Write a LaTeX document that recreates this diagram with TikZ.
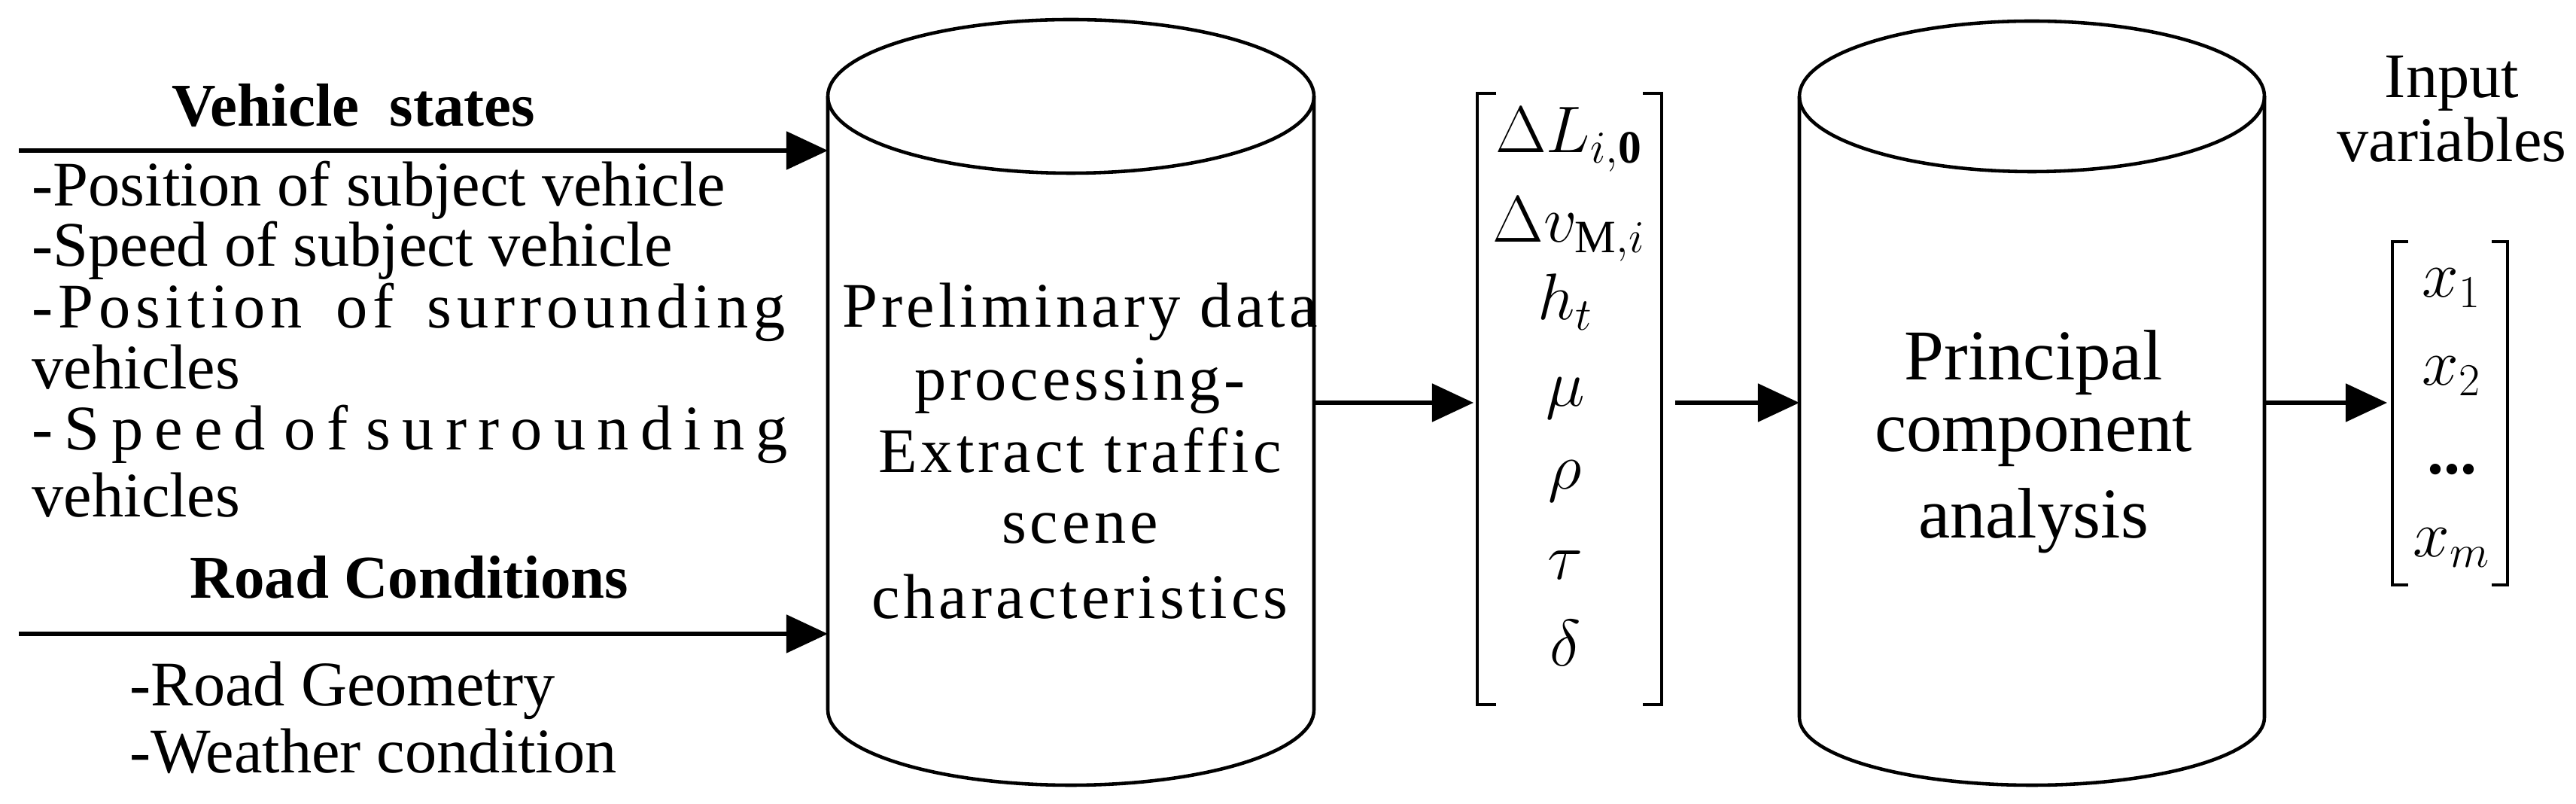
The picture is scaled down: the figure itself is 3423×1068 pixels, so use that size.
\documentclass[tikz,border=0pt]{standalone}
\usepackage{fontspec}
\setmainfont{Liberation Serif}
\usetikzlibrary{arrows.meta}
\begin{document}
\begin{tikzpicture}[x=0.01cm,y=-0.01cm,
  arr/.style={line width=1.5pt,-{Triangle[length=0.55cm,width=0.5cm]}},
  cyl/.style={line width=1.3pt},
  lst/.style={anchor=base west,inner sep=0,font=\fontsize{24}{28}\selectfont},
  hd/.style={anchor=base,inner sep=0,font=\fontsize{23}{26}\selectfont\bfseries},
  ctr/.style={anchor=base,inner sep=0},
  vec/.style={anchor=base,inner sep=0,font=\fontsize{25}{28}\selectfont}]
\useasboundingbox (0,0) rectangle (3423,1068);
% cylinder 1
\draw[cyl] (1100,128) arc[start angle=180,end angle=-180,x radius=323,y radius=102];
\draw[cyl] (1100,128) -- (1100,943) arc[start angle=180,end angle=0,x radius=323,y radius=100] -- (1746,128);
\coordinate (c1w1) at (1100,200); \coordinate (c1w2) at (1100,842);
\coordinate (c1e) at (1746,535);
% cylinder 2
\draw[cyl] (2391,128) arc[start angle=180,end angle=-180,x radius=309,y radius=100];
\draw[cyl] (2391,128) -- (2391,953) arc[start angle=180,end angle=0,x radius=309,y radius=90] -- (3009,128);
\coordinate (c2w) at (2391,535); \coordinate (c2e) at (3009,535);
% text in cylinder 1
\begin{scope}[every node/.style={ctr,font=\fontsize{24}{28}\selectfont\addfontfeature{LetterSpace=6}}]
\node (t1) at (1435,435) {Preliminary data};
\node (t2) at (1435,532) {processing-};
\node (t3) at (1435,628) {Extract traffic};
\node (t4) at (1435,722) {scene};
\node (t5) at (1435,822) {characteristics};
\end{scope}
% text in cylinder 2
\begin{scope}[every node/.style={ctr,font=\fontsize{27}{30}\selectfont}]
\node (p1) at (2702,505) {Principal};
\node (p2) at (2702,600) {component};
\node (p3) at (2702,715) {analysis};
\end{scope}
\begin{scope}[every node/.style={ctr,font=\fontsize{24}{28}\selectfont}]
\node (iv1) at (3258,130) {Input};
\node (iv2) at (3258,215) {variables};
\end{scope}
% left texts
\node[hd] (vs) at (470,168) {Vehicle\ \ states};
\node[lst] (l1) at (42,274) {-Position of subject vehicle};
\node[lst] (l2) at (42,354) {-Speed of subject vehicle};
\node[lst] (l3) at (42,436) {\makebox[10cm][s]{\addfontfeature{LetterSpace=8}-Position of surrounding}};
\node[lst] (l4) at (42,517) {vehicles};
\node[lst] (l5) at (42,598) {\makebox[10cm][s]{\addfontfeature{LetterSpace=18}-Speed of surrounding}};
\node[lst] (l6) at (42,687) {vehicles};
\node[hd] (rc) at (544,795) {Road Conditions};
\node[lst] (r1) at (172,938) {-Road Geometry};
\node[lst] (r2) at (172,1027) {-Weather condition};
\coordinate (a1s) at (25,200); \coordinate (a2s) at (25,842);
\draw[arr] (a1s) -- (c1w1);
\draw[arr] (a2s) -- (c1w2);
% vector 1
\draw[line width=1.2pt] (1988,124) -- (1963,124) -- (1963,936) -- (1988,936);
\draw[line width=1.2pt] (2183,124) -- (2208,124) -- (2208,936) -- (2183,936);
\coordinate (v1w) at (1958,535); \coordinate (v1e) at (2226,535);
\node[vec] (e1) at (2085,203) {$\Delta L_{i,\mathbf{0}}$};
\node[vec] (e2) at (2085,322) {$\Delta v_{\mathrm{M},i}$};
\node[vec] (e3) at (2080,425) {$h_t$};
\node[vec] (e4) at (2080,540) {$\mu$};
\node[vec] (e5) at (2080,650) {$\rho$};
\node[vec] (e6) at (2080,770) {$\tau$};
\node[vec] (e7) at (2080,885) {$\delta$};
% vector 2
\draw[line width=1.2pt] (3200,321) -- (3179,321) -- (3179,777) -- (3200,777);
\draw[line width=1.2pt] (3311,321) -- (3332,321) -- (3332,777) -- (3311,777);
\coordinate (v2w) at (3172,535);
\node[vec] (x1) at (3258,395) {$x_1$};
\node[vec] (x2) at (3258,512) {$x_2$};
\node[vec] (x3) at (3258,630) {\textbf{...}};
\node[vec] (x4) at (3258,740) {$x_m$};
% arrows
\draw[arr] (c1e) -- (v1w);
\draw[arr] (v1e) -- (c2w);
\draw[arr] (c2e) -- (v2w);
\end{tikzpicture}
\end{document}
